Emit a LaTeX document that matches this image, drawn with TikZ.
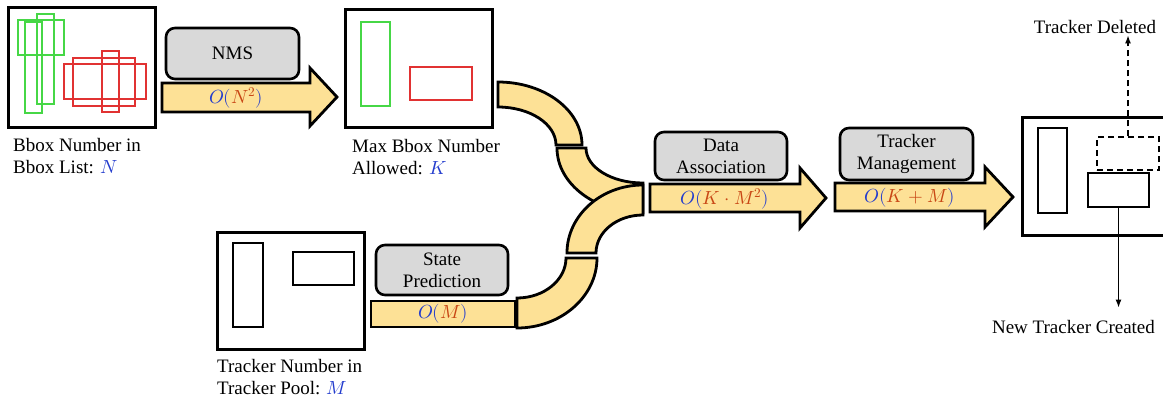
\documentclass[tikz,border=0pt]{standalone}
\usepackage{fontspec}
\usepackage{unicode-math}
\setmainfont{Liberation Serif}
\setmathfont{Latin Modern Math}
\usepackage{tikz}
\usetikzlibrary{arrows.meta}

\definecolor{pipefill}{RGB}{253,225,150}
\definecolor{opgray}{RGB}{217,217,217}
\definecolor{boxgreen}{RGB}{70,215,70}
\definecolor{boxred}{RGB}{225,50,50}
\definecolor{cblue}{RGB}{35,60,205}
\definecolor{cred}{RGB}{200,70,20}

\newcommand{\cost}[1]{$\textcolor{cblue}{O(}\textcolor{cred}{#1}\textcolor{cblue}{)}$}

\begin{document}
\begin{tikzpicture}[x=1pt, y=-1pt,
  font=\fontsize{19}{22}\selectfont,
  imgframe/.style={draw, line width=3pt, inner sep=0pt},
  opbox/.style={draw, line width=2.6pt, fill=opgray, rounded corners=9pt, align=center, inner sep=0pt},
  pipe/.style={draw, line width=2.8pt, fill=pipefill, line join=miter},
  thinbox/.style={line width=1.4pt},
  captxt/.style={align=left, anchor=north west, inner sep=0pt},
  endtxt/.style={inner sep=2pt}]
  \clip (0,0) rectangle (1163,397);

  \node[imgframe, minimum width=147pt, minimum height=120pt] (raw) at (81.5,67) {};
  \draw[thinbox, boxgreen] (18,20) rectangle (64,55) (25,22) rectangle (42,113) (37,14) rectangle (54,104);
  \draw[thinbox, boxred] (64,64) rectangle (146,99) (73,58) rectangle (135,106) (102,51) rectangle (119,112);
  \node[captxt] (rawtxt) at (13,138) {Bbox Number in\\Bbox List: $\textcolor{cblue}{N}$};

  \node[opbox, minimum width=133pt, minimum height=51pt] (nms) at (232.5,53.5) {NMS};
  \filldraw[pipe] (162,83) -- (310,83) -- (310,68) -- (337,97) -- (310,126) -- (310,112) -- (162,112) -- cycle;
  \node (nmscost) at (236,97.5) {\cost{N^2}};

  \node[imgframe, minimum width=147pt, minimum height=118pt] (kept) at (418.5,68) {};
  \draw[thinbox, boxgreen] (361,22) rectangle (390,106);
  \draw[thinbox, boxred] (410,67) rectangle (472,100);
  \node[captxt] (kepttxt) at (352,139) {Max Bbox Number\\Allowed: $\textcolor{cblue}{K}$};

  \node[imgframe, minimum width=147pt, minimum height=117pt] (pool) at (290.5,290.5) {};
  \draw[thinbox] (233,243) rectangle (263,327) (293,252) rectangle (354,285);
  \node[captxt] (pooltxt) at (217,359) {Tracker Number in\\Tracker Pool: $\textcolor{cblue}{M}$};

  \node[opbox, minimum width=132pt, minimum height=50pt] (pred) at (442,270) {State\\Prediction};
  \filldraw[pipe] (371,301) rectangle (515,327);
  \node (predcost) at (443,314) {\cost{M}};

  \filldraw[pipe] (498,82) .. controls (544.4,82) and (582,110.2) .. (582,145) -- (556,145)
    .. controls (556,124) and (530,107) .. (498,107) -- cycle;
  \filldraw[pipe] (557,148) -- (586,148) .. controls (586,167.3) and (611.5,183) .. (643,183) -- (643,213)
    .. controls (595.5,213) and (557,183.9) .. (557,148) -- cycle;
  \filldraw[pipe] (567,253) .. controls (567,215.5) and (601,185) .. (643,185) -- (643,215)
    .. controls (617,215) and (596,232) .. (596,253) -- cycle;
  \filldraw[pipe] (566,258) -- (597,258) .. controls (597,296.6) and (561,328) .. (517,328) -- (517,298)
    .. controls (544,298) and (566,280) .. (566,258) -- cycle;

  \node[opbox, minimum width=132pt, minimum height=48pt] (assoc) at (721,156) {Data\\Association};
  \filldraw[pipe] (650,184) -- (800,184) -- (800,168) -- (826,198) -- (800,228) -- (800,212) -- (650,212) -- cycle;
  \node (assoccost) at (725,199) {\cost{K\cdot M^2}};

  \node[opbox, minimum width=133pt, minimum height=52pt] (manage) at (906.5,154) {Tracker\\Management};
  \filldraw[pipe] (835,183) -- (985,183) -- (985,167) -- (1013,197) -- (985,227) -- (985,211) -- (835,211) -- cycle;
  \node (managecost) at (910,198) {\cost{K+M}};

  \node[imgframe, minimum width=153pt, minimum height=118pt] (out) at (1098.5,176) {};
  \draw[thinbox] (1038,128) rectangle (1067,213);
  \node[draw, thinbox, dash pattern=on 6pt off 4pt, minimum width=62pt, minimum height=33pt, inner sep=0pt] (del) at (1128,153.5) {};
  \node[draw, thinbox, minimum width=61pt, minimum height=34pt, inner sep=0pt] (new) at (1118.5,190) {};

  \node[endtxt] (deltxt) at (1095,26.5) {Tracker Deleted};
  \node[endtxt] (newtxt) at (1073.5,326.5) {New Tracker Created};
  \draw[line width=1.3pt, dash pattern=on 6pt off 4pt, -{Latex[length=8pt,width=6pt]}] (del.north) -- (del.north |- deltxt.south);
  \draw[line width=1.3pt, shorten >=10pt, -{Latex[length=8pt,width=6pt]}] (new.south) -- (new.south |- newtxt.north);
\end{tikzpicture}
\end{document}
